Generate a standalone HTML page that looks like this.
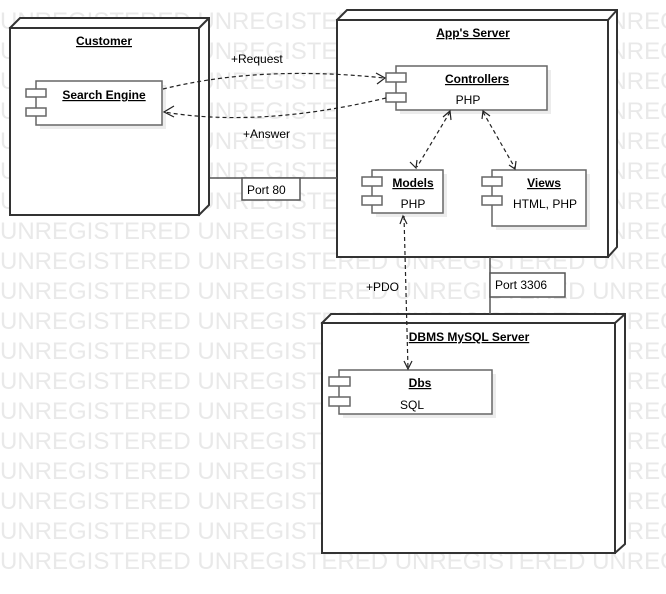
<!DOCTYPE html>
<html><head><style>
html,body{margin:0;padding:0;background:#fff;}
svg{display:block;font-family:"Liberation Sans",Arial,sans-serif;}
</style></head><body>
<svg width="666" height="594" viewBox="0 0 666 594" xmlns="http://www.w3.org/2000/svg">
<g fill="#e9e9e9" font-size="24" font-weight="normal">
<text x="0" y="29">UNREGISTERED UNREGISTERED UNREGISTERED UNREGISTERED</text>
<text x="0" y="59">UNREGISTERED UNREGISTERED UNREGISTERED UNREGISTERED</text>
<text x="0" y="89">UNREGISTERED UNREGISTERED UNREGISTERED UNREGISTERED</text>
<text x="0" y="119">UNREGISTERED UNREGISTERED UNREGISTERED UNREGISTERED</text>
<text x="0" y="149">UNREGISTERED UNREGISTERED UNREGISTERED UNREGISTERED</text>
<text x="0" y="179">UNREGISTERED UNREGISTERED UNREGISTERED UNREGISTERED</text>
<text x="0" y="209">UNREGISTERED UNREGISTERED UNREGISTERED UNREGISTERED</text>
<text x="0" y="239">UNREGISTERED UNREGISTERED UNREGISTERED UNREGISTERED</text>
<text x="0" y="269">UNREGISTERED UNREGISTERED UNREGISTERED UNREGISTERED</text>
<text x="0" y="299">UNREGISTERED UNREGISTERED UNREGISTERED UNREGISTERED</text>
<text x="0" y="329">UNREGISTERED UNREGISTERED UNREGISTERED UNREGISTERED</text>
<text x="0" y="359">UNREGISTERED UNREGISTERED UNREGISTERED UNREGISTERED</text>
<text x="0" y="389">UNREGISTERED UNREGISTERED UNREGISTERED UNREGISTERED</text>
<text x="0" y="419">UNREGISTERED UNREGISTERED UNREGISTERED UNREGISTERED</text>
<text x="0" y="449">UNREGISTERED UNREGISTERED UNREGISTERED UNREGISTERED</text>
<text x="0" y="479">UNREGISTERED UNREGISTERED UNREGISTERED UNREGISTERED</text>
<text x="0" y="509">UNREGISTERED UNREGISTERED UNREGISTERED UNREGISTERED</text>
<text x="0" y="539">UNREGISTERED UNREGISTERED UNREGISTERED UNREGISTERED</text>
<text x="0" y="569">UNREGISTERED UNREGISTERED UNREGISTERED UNREGISTERED</text>
</g>

<g stroke="#333" stroke-width="2" fill="#fff">
<!-- Customer -->
<path d="M10,28 L20,18 L209,18 L209,205 L199,215 Z"/>
<rect x="10" y="28" width="189" height="187"/>
<line x1="199" y1="28" x2="209" y2="18"/>
<!-- App's server -->
<path d="M337,20 L347,10 L617,10 L617,247 L608,257 Z"/>
<rect x="337" y="20" width="271" height="237"/>
<line x1="608" y1="20" x2="617" y2="10"/>
<!-- DBMS -->
<path d="M322,323 L331,314 L625,314 L625,544 L615,553 Z"/>
<rect x="322" y="323" width="293" height="230"/>
<line x1="615" y1="323" x2="625" y2="314"/>
</g>

<g font-size="12" font-weight="bold" fill="#000" text-anchor="middle" text-decoration="underline">
<text x="104" y="45">Customer</text>
<text x="473" y="37">App's Server</text>
<text x="469" y="341">DBMS MySQL Server</text>
</g>

<!-- ports -->
<g stroke="#555" stroke-width="1.5" fill="#fff">
<line x1="210" y1="178" x2="337" y2="178"/>
<rect x="242" y="178" width="58" height="22"/>
<line x1="490" y1="257" x2="490" y2="314"/>
<rect x="490" y="273" width="75" height="24"/>
</g>
<g font-size="12" fill="#000">
<text x="247" y="194">Port 80</text>
<text x="495" y="289">Port 3306</text>
</g>

<!-- components -->
<g fill="#ececec">
<rect x="40" y="85" width="126" height="44"/>
<rect x="400" y="70" width="151" height="44"/>
<rect x="376" y="174" width="71" height="43"/>
<rect x="496" y="174" width="94" height="56"/>
<rect x="343" y="374" width="153" height="44"/>
</g>
<g stroke="#666" stroke-width="1.5" fill="#fff">
<rect x="36" y="81" width="126" height="44"/>
<rect x="26" y="89" width="20" height="8"/><rect x="26" y="108" width="20" height="8"/>
<rect x="396" y="66" width="151" height="44"/>
<rect x="386" y="73" width="20" height="9"/><rect x="386" y="93" width="20" height="9"/>
<rect x="372" y="170" width="71" height="43"/>
<rect x="362" y="177" width="20" height="9"/><rect x="362" y="196" width="20" height="9"/>
<rect x="492" y="170" width="94" height="56"/>
<rect x="482" y="177" width="20" height="9"/><rect x="482" y="196" width="20" height="9"/>
<rect x="339" y="370" width="153" height="44"/>
<rect x="329" y="377" width="21" height="9"/><rect x="329" y="397" width="21" height="9"/>
</g>
<g font-size="12" fill="#000" text-anchor="middle">
<text x="104" y="99" font-weight="bold" text-decoration="underline">Search Engine</text>
<text x="477" y="83" font-weight="bold" text-decoration="underline">Controllers</text>
<text x="468" y="104">PHP</text>
<text x="413" y="187" font-weight="bold" text-decoration="underline">Models</text>
<text x="413" y="208">PHP</text>
<text x="544" y="187" font-weight="bold" text-decoration="underline">Views</text>
<text x="545" y="208">HTML, PHP</text>
<text x="420" y="387" font-weight="bold" text-decoration="underline">Dbs</text>
<text x="412" y="409">SQL</text>
</g>

<!-- connectors -->
<g stroke="#222" stroke-width="1.2" fill="none" stroke-dasharray="4,3">
<path d="M163,89 Q260,65 384,78"/>
<path d="M386,98 Q260,128 164,112"/>
<path d="M450,112 L417,167"/>
<path d="M483,112 L515,168"/>
<path d="M404,216 L408,369"/>
</g>
<g stroke="#222" stroke-width="1.2" fill="none">
<path d="M376,73 L385,78 L377,84"/>
<path d="M174,106 L164,112 L174,117"/>
<path d="M443,117 L450,111 L451,120"/>
<path d="M410,162 L416,168 L417,160"/>
<path d="M482,119 L483,111 L490,116"/>
<path d="M509,165 L515,169 L516,161"/>
<path d="M400,224 L403,216 L407,224"/>
<path d="M404,361 L408,369 L412,361"/>
</g>
<g font-size="12" fill="#000">
<text x="231" y="63">+Request</text>
<text x="243" y="138">+Answer</text>
<text x="366" y="291">+PDO</text>
</g>
</svg>
</body></html>
